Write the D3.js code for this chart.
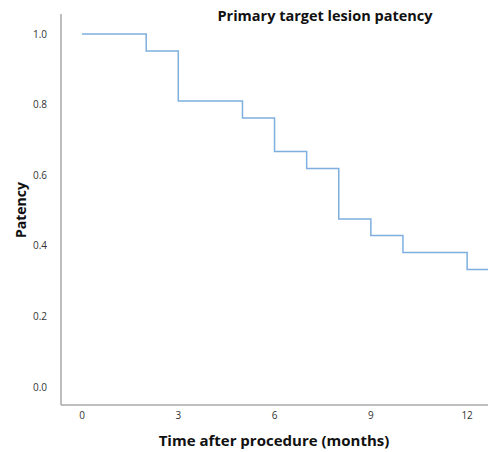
<!DOCTYPE html>
<html>
<head>
<meta charset="utf-8">
<script src="https://cdn.jsdelivr.net/npm/d3@7"></script>
<style>
  body { margin: 0; background: #fff; }
  svg { display: block; font-family: "Open Sans", "DejaVu Sans", sans-serif; }
</style>
</head>
<body>
<div id="chart"></div>
<script>
// step data (Kaplan-Meier style)
let stepTimes = [0, 2, 3, 5, 6, 7, 8, 9, 10, 12];
let stepValues = [1.0, 0.952, 0.810, 0.762, 0.667, 0.619, 0.476, 0.429, 0.381, 0.333];
let lastTime = 12.65;
let xTicks = [0, 3, 6, 9, 12];
let yTicks = [0.0, 0.2, 0.4, 0.6, 0.8, 1.0];

let width = 488, height = 452;
let lineColor = '#7eafe0',
    axisColor = '#a8a8a8';

let svg = d3.select('#chart').append('svg')
    .attr('width', width)
    .attr('height', height);

let x = d3.scaleLinear().domain([0, lastTime]).range([82, 488]);
let y = d3.scaleLinear().domain([0, 1]).range([387, 34]);

// axes lines
svg.append('line')
    .attr('x1', 61).attr('x2', 61)
    .attr('y1', 14).attr('y2', 405)
    .attr('stroke', axisColor).attr('stroke-width', 1.5);
svg.append('line')
    .attr('x1', 61).attr('x2', width)
    .attr('y1', 405).attr('y2', 405)
    .attr('stroke', axisColor).attr('stroke-width', 1.5);

// tick labels
svg.selectAll('.ytick').data(yTicks).enter().append('text')
    .attr('class', 'ytick')
    .attr('x', 47)
    .attr('y', d => y(d))
    .attr('dy', '0.35em')
    .attr('text-anchor', 'end')
    .attr('font-size', 10)
    .attr('fill', '#333')
    .text(d => d3.format('.1f')(d));

svg.selectAll('.xtick').data(xTicks).enter().append('text')
    .attr('class', 'xtick')
    .attr('x', d => x(d))
    .attr('y', 419)
    .attr('text-anchor', 'middle')
    .attr('font-size', 10)
    .attr('fill', '#333')
    .text(d => d);

// step line
let pts = stepTimes.map((t, i) => [t, stepValues[i]]);
pts.push([lastTime, stepValues[stepValues.length - 1]]);
let line = d3.line()
    .x(d => x(d[0]))
    .y(d => y(d[1]))
    .curve(d3.curveStepAfter);
svg.append('path')
    .datum(pts)
    .attr('d', line)
    .attr('fill', 'none')
    .attr('stroke', lineColor)
    .attr('stroke-width', 1.5);

// titles
svg.append('text')
    .attr('x', 325).attr('y', 21)
    .attr('text-anchor', 'middle')
    .attr('font-size', 14.5)
    .attr('font-weight', 'bold')
    .attr('fill', '#111')
    .text('Primary target lesion patency');

svg.append('text')
    .attr('x', 274).attr('y', 446)
    .attr('text-anchor', 'middle')
    .attr('font-size', 15)
    .attr('font-weight', 'bold')
    .attr('fill', '#111')
    .text('Time after procedure (months)');

svg.append('text')
    .attr('transform', 'translate(26,210) rotate(-90)')
    .attr('text-anchor', 'middle')
    .attr('font-size', 14)
    .attr('font-weight', 'bold')
    .attr('fill', '#111')
    .text('Patency');
</script>
</body>
</html>
